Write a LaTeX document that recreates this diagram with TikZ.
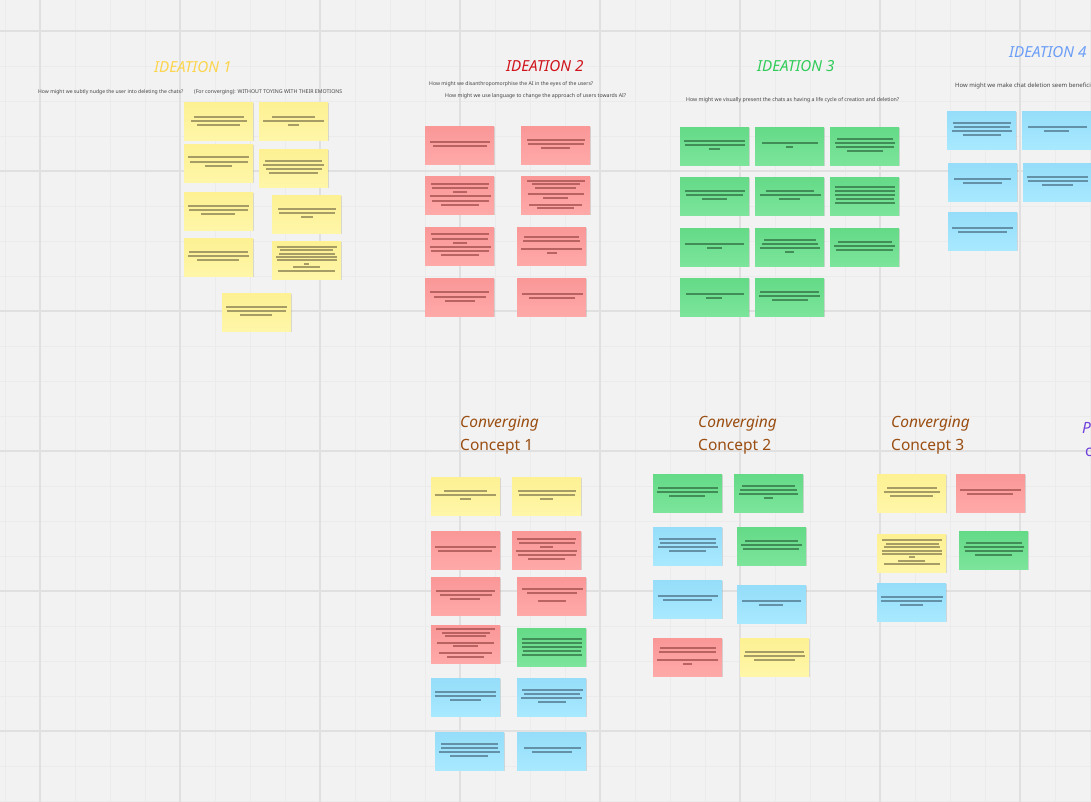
\documentclass[tikz,border=0pt]{standalone}
\usepackage{fontspec}
\usepackage{graphicx}
\setmainfont{Noto Sans}
\usetikzlibrary{shadows}
\definecolor{bg}{HTML}{F2F2F2}
\definecolor{gminor}{HTML}{EBEBEB}
\definecolor{gmajor}{HTML}{E0E0E0}
\definecolor{yT}{HTML}{FDF193}
\definecolor{yB}{HTML}{FFF6A8}
\definecolor{rT}{HTML}{FA9797}
\definecolor{rB}{HTML}{FFA9A9}
\definecolor{gT}{HTML}{64DA87}
\definecolor{gB}{HTML}{7CE59B}
\definecolor{bT}{HTML}{95DDF9}
\definecolor{bB}{HTML}{A8E9FF}
\definecolor{yL}{HTML}{978D5C}
\definecolor{rL}{HTML}{AE5858}
\definecolor{gL}{HTML}{3A7F4E}
\definecolor{bL}{HTML}{5A8399}
\definecolor{hY}{HTML}{FCD54C}
\definecolor{hR}{HTML}{D0141C}
\definecolor{hG}{HTML}{30CC58}
\definecolor{hB}{HTML}{6B9EF7}
\definecolor{hBr}{HTML}{9A4E12}
\definecolor{hP}{HTML}{7040DC}
\definecolor{qtxt}{HTML}{444444}
\tikzset{
  note/.style={draw=none, minimum width=69pt, minimum height=38pt, inner sep=0pt,
    drop shadow={shadow xshift=0.3pt, shadow yshift=-1.2pt, opacity=0.12, fill=black}},
  noteY/.style={note, top color=yT, bottom color=yB},
  noteR/.style={note, top color=rT, bottom color=rB},
  noteG/.style={note, top color=gT, bottom color=gB},
  noteB/.style={note, top color=bT, bottom color=bB},
  lnY/.style={draw=yL, line width=1.3pt, opacity=0.85},
  lnR/.style={draw=rL, line width=1.3pt, opacity=0.85},
  lnG/.style={draw=gL, line width=1.3pt, opacity=0.85},
  lnB/.style={draw=bL, line width=1.3pt, opacity=0.85},
  ideation/.style={anchor=west, inner sep=0pt, font=\fontsize{15.2}{17}\selectfont\itshape},
  question/.style={anchor=west, inner sep=0pt, text=qtxt, font=\fontsize{5}{6}\selectfont},
  conv/.style={anchor=west, inner sep=0pt, text=hBr, font=\fontsize{15.5}{17}\selectfont},
  convit/.style={conv, font=\fontsize{15.5}{17}\selectfont\itshape},
  gminorline/.style={draw=gminor, line width=0.7pt},
  gmajorline/.style={draw=gmajor, line width=1.3pt},
}
\newcommand\stk[5]{%
  \node[note#2, anchor=north west] (#1) at (#3,#4) {};
  \begin{scope}[shift={(#1.north west)}]
    \foreach \ly/\la/\lb in {#5}{\draw[ln#2] (\la,\ly) -- (\lb,\ly);}
  \end{scope}}
\begin{document}
\begin{tikzpicture}[x=1pt, y=-1pt]
\useasboundingbox (0,0) rectangle (1091,802);
\clip (0,0) rectangle (1091,802);
\fill[bg] (0,0) rectangle (1091,802);
% grid
\foreach \gx in {5,40,...,1090} \draw[gminorline] (\gx,0) -- (\gx,802);
\foreach \gy in {31,66,...,801} \draw[gminorline] (0,\gy) -- (1091,\gy);
\foreach \gx in {40,180,...,1090} \draw[gmajorline] (\gx,0) -- (\gx,802);
\foreach \gy in {31,171,...,801} \draw[gmajorline] (0,\gy) -- (1091,\gy);

% headings
\node[ideation, text=hY] (t1) at (154,67) {IDEATION 1};
\node[ideation, text=hR] (t2) at (506,66) {IDEATION 2};
\node[ideation, text=hG] (t3) at (757,66) {IDEATION 3};
\node[ideation, text=hB] (t4) at (1009,52) {IDEATION 4};
\node[question] (q1a) at (38,92) {\resizebox{145pt}{!}{How might we subtly nudge the user into deleting the chats?}};
\node[question] (q1b) at (194,92) {\resizebox{148pt}{!}{(For converging): WITHOUT TOYING WITH THEIR EMOTIONS}};
\node[question] (q2a) at (429,84) {\resizebox{164pt}{!}{How might we disanthropomorphise the AI in the eyes of the users?}};
\node[question] (q2b) at (445,96) {\resizebox{181pt}{!}{How might we use language to change the approach of users towards AI?}};
\node[question] (q3) at (686,100) {\resizebox{213pt}{!}{How might we visually present the chats as having a life cycle of creation and deletion?}};
\node[question] (q4) at (955,86) {\resizebox{175pt}{!}{How might we make chat deletion seem beneficial to the user?}};

\node[convit] (c1a) at (460,424) {Converging};
\node[conv] (c1b) at (460,447) {Concept 1};
\node[convit] (c2a) at (698,424) {Converging};
\node[conv] (c2b) at (698,447) {Concept 2};
\node[convit] (c3a) at (891,424) {Converging};
\node[conv] (c3b) at (891,447) {Concept 3};
\node[convit, text=hP] (c4a) at (1082,430) {Prototype};
\node[conv, text=hP] (c4b) at (1085,453) {concept};

% IDEATION 1
\stk{a1}{Y}{184}{102}{15/10/60, 19/7/63, 23/13/56}
\stk{a2}{Y}{259}{102}{15/13/56, 19/4/65, 23/29/40}
\stk{a3}{Y}{184}{144}{13/4/65, 18/6/64, 22/21/48}
\stk{a4}{Y}{259}{149}{12/6/63, 16/4/65, 20/7/63, 24/10/59}
\stk{a5}{Y}{184}{192}{14/4/65, 18/5/64, 22/17/51}
\stk{a6}{Y}{272}{195}{14/6/64, 18/7/63, 22/29/41}
\stk{a7}{Y}{184}{238}{14/5/64, 18/4/65, 22/13/55}
\stk{a8}{Y}{272}{241}{6/5/65, 9/8/61, 13/7/63, 16/4/65, 19/5/65, 23/32/37, 26/21/48, 30/6/63}
\stk{a9}{Y}{222}{293}{14/4/65, 18/5/64, 22/18/50}

% IDEATION 2
\stk{b1}{R}{425}{126}{16/5/65, 20/8/62}
\stk{b2}{R}{521}{126}{14/6/64, 18/7/63, 22/20/49}
\stk{b3}{R}{425}{176}{8/6/64, 12/7/63, 16/28/42, 20/5/66, 25/7/64, 29/16/54}
\stk{b4}{R}{521}{176}{5/6/64, 8/11/59, 12/14/55, 18/7/63, 22/22/47, 29/8/61, 32/16/53}
\stk{b5}{R}{425}{227}{7/6/64, 12/7/63, 16/28/42, 20/5/66, 24/6/64, 28/16/54}
\stk{b6}{R}{517}{227}{10/7/62, 14/6/63, 22/4/65, 26/30/40}
\stk{b7}{R}{425}{278}{14/5/64, 19/9/61, 23/20/50}
\stk{b8}{R}{517}{278}{16/5/66, 20/12/58}

% IDEATION 3
\stk{g11}{G}{680}{127}{14/4/65, 18/5/65, 22/29/40}
\stk{g12}{G}{755}{127}{16/7/63, 20/31/38}
\stk{g13}{G}{830}{127}{12/7/63, 16/5/65, 20/6/64, 24/17/53}
\stk{g21}{G}{680}{177}{14/5/65, 18/6/63, 22/22/47}
\stk{g22}{G}{755}{177}{14/11/59, 18/5/66, 22/24/45}
\stk{g23}{G}{830}{177}{10/5/65, 14/5/65, 18/5/65, 22/6/64, 26/5/65}
\stk{g31}{G}{680}{228}{16/5/64, 20/27/42}
\stk{g32}{G}{755}{228}{12/9/61, 16/7/63, 20/5/65, 24/30/39}
\stk{g33}{G}{830}{228}{14/8/62, 18/4/65, 22/6/63}
\stk{g41}{G}{680}{278}{16/6/64, 20/26/42}
\stk{g42}{G}{755}{278}{14/5/64, 18/4/65, 22/17/53}

% IDEATION 4
\stk{d1}{B}{947}{111}{12/6/64, 16/7/63, 20/5/65, 24/16/54}
\stk{d2}{B}{1022}{111}{16/6/65, 20/22/47}
\stk{d3}{B}{948}{163}{16/6/63, 20/15/54}
\stk{d4}{B}{1023}{163}{14/4/65, 18/5/65, 22/19/50}
\stk{d5}{B}{948}{212}{16/4/65, 20/10/59}

% CONVERGING 1
\stk{e1}{Y}{431}{477}{14/13/56, 18/4/65, 22/29/40}
\stk{e2}{Y}{512}{477}{14/6/64, 18/7/63, 22/28/41}
\stk{e3}{R}{431}{531}{16/4/65, 20/7/61}
\stk{e4}{R}{512}{531}{8/5/64, 12/7/63, 16/28/41, 20/4/65, 24/6/64, 28/16/53}
\stk{e5}{R}{431}{577}{14/5/64, 18/9/61, 22/19/49}
\stk{e6}{R}{517}{577}{12/5/66, 16/10/60, 24/21/49}
\stk{e7}{R}{431}{625}{4/5/64, 8/11/59, 11/14/55, 18/6/63, 21/22/47, 28/8/61, 32/16/53}
\stk{e8}{G}{517}{628}{11/5/65, 15/5/65, 19/5/65, 23/6/64, 27/5/65}
\stk{e9}{B}{431}{678}{14/4/65, 18/4/65, 22/19/50}
\stk{e10}{B}{517}{678}{12/5/66, 16/7/63, 20/4/65, 24/21/49}
\stk{e11}{B}{435}{732}{12/6/63, 16/6/63, 20/4/65, 24/15/53}
\stk{e12}{B}{517}{732}{16/7/64, 20/15/55}

% CONVERGING 2
\stk{f1}{G}{653}{474}{14/5/65, 18/4/65, 22/16/52}
\stk{f2}{G}{734}{474}{12/8/61, 16/6/63, 20/5/64, 24/30/39}
\stk{f3}{B}{653}{527}{12/6/63, 16/7/63, 20/5/65, 24/16/53}
\stk{f4}{G}{737}{527}{14/8/61, 18/4/65, 22/6/62}
\stk{f5}{B}{653}{580}{16/5/65, 20/10/59}
\stk{f6}{B}{737}{585}{16/5/64, 20/22/46}
\stk{f7}{R}{653}{638}{10/7/63, 14/6/63, 22/4/65, 26/30/39}
\stk{f8}{Y}{740}{638}{14/5/64, 18/4/65, 22/14/55}

% CONVERGING 3
\stk{h1}{Y}{877}{474}{14/10/60, 18/7/63, 22/13/56}
\stk{h2}{R}{956}{474}{16/4/65, 20/11/57}
\stk{h3}{Y}{877}{534}{6/5/65, 10/9/62, 13/7/63, 17/5/65, 20/5/65, 23/32/38, 27/21/48, 30/7/63}
\stk{h4}{G}{959}{531}{12/7/63, 16/5/65, 20/6/64, 24/16/53}
\stk{h5}{B}{877}{583}{14/4/66, 18/4/65, 22/23/46}
\end{tikzpicture}
\end{document}
